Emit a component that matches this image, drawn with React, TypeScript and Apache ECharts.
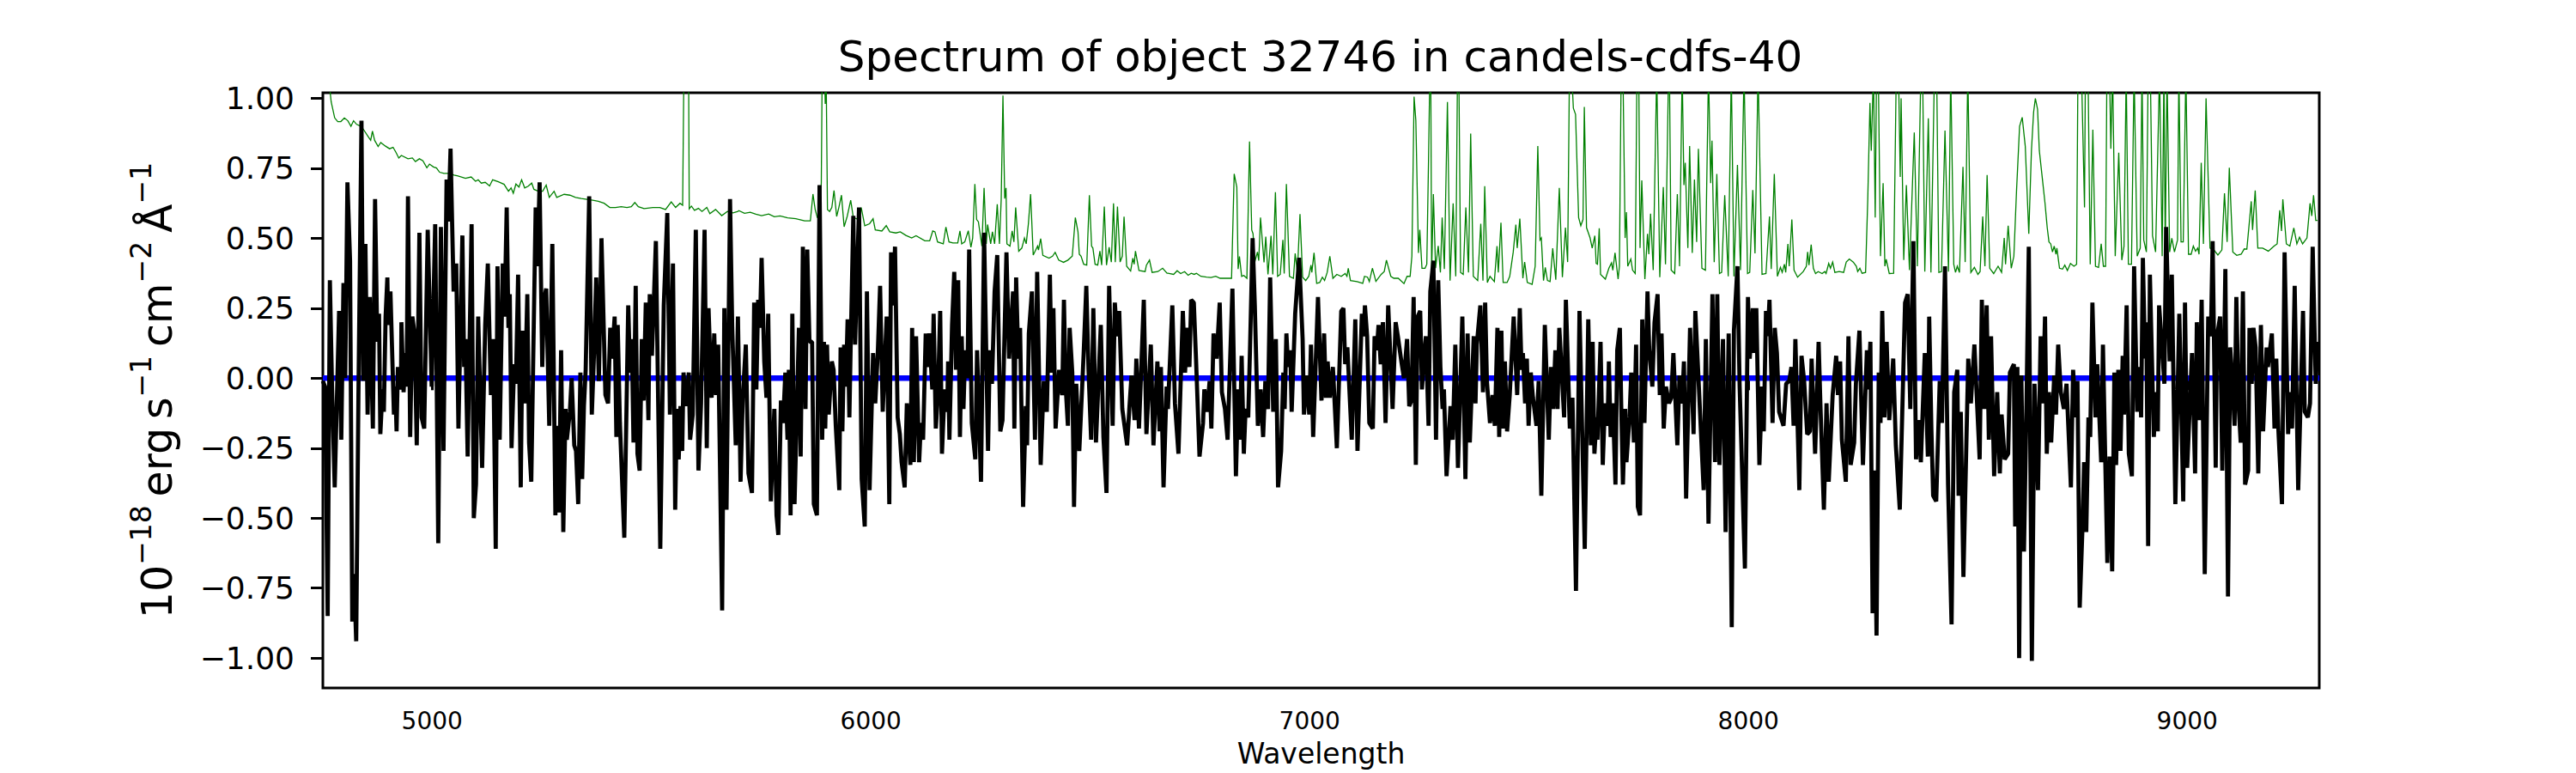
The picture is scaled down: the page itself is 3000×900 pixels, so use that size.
import React, { useEffect, useRef } from "react";
import * as echarts from "echarts";

const titleText = "Spectrum of object 32746 in candels-cdfs-40";
const xLabel = "Wavelength";
const yLabel = "10{s|−18}\u2009erg\u2009s{s|−1}\u2009cm{s|−2}\u2009Å{s|−1}";
const xTicks = [5000, 6000, 7000, 8000, 9000];
const yTicks = [-1, -0.75, -0.5, -0.25, 0, 0.25, 0.5, 0.75, 1];

const zeroLine = [[4751, 0], [9301, 0]];

const fluxA = [[4751,-0.01],[4756,-0.03],[4762,-0.85],[4767,0.35],[4772,-0.04],[4778,-0.39],[4788,0.24],[4793,-0.22],[4798,0.34],[4802,0],[4807,0.70],[4813,0.42],[4818,-0.87],[4822,-0.70],[4827,-0.94],[4832,-0.07],[4839,0.92],[4843,-0.01],[4848,0.48],[4853,-0.13],[4858,0.29],[4865,-0.18],[4870,0.64],[4875,0.13],[4879,0.23],[4882,-0.20],[4887,-0.04],[4890,-0.12],[4894,0.22],[4898,0.36],[4900,0.19],[4905,0.31],[4913,-0.13],[4916,-0.03],[4919,-0.19],[4922,0.04],[4929,-0.04],[4930,0.20],[4935,-0.05],[4939,0.09],[4942,-0.03],[4945,0.65],[4950,-0.21],[4955,0.22],[4960,0.16],[4965,-0.24],[4971,0.52],[4976,-0.14],[4982,-0.18],[4990,0.53],[4999,-0.03],[5007,0.55],[5014,-0.59],[5020,0.54],[5026,-0.26],[5033,0.71],[5037,0.56],[5042,0.82],[5049,0.31],[5055,0.41],[5060,-0.18],[5069,0.51],[5073,0.04],[5076,0.14],[5081,-0.28],[5090,0.55],[5095,-0.50],[5100,-0.38],[5105,0.22],[5114,-0.32],[5121,0.19],[5127,0.41],[5134,-0.06],[5139,0.14],[5145,-0.61],[5149,0.40],[5154,-0.22],[5161,0.41],[5165,0.22],[5170,0.61],[5174,0.18],[5177,0.30],[5181,-0.25],[5187,0.05],[5191,-0.02],[5196,0.37],[5202,-0.39],[5206,0.17],[5211,-0.09],[5217,0.30],[5221,-0.23],[5226,-0.37],[5236,0.61],[5240,0.40],[5245,0.70],[5251,0.04],[5255,0.28],[5260,0.32],[5267,-0.17],[5274,0.48],[5281,-0.49],[5284,-0.17],[5289,-0.48],[5294,0.10],[5299,-0.55],[5304,-0.11],[5307,-0.22],[5314,-0.12],[5318,0],[5324,-0.24],[5328,-0.26],[5333,-0.45],[5338,0.02],[5342,-0.36],[5346,-0.10],[5350,0.03],[5358,0.65],[5364,-0.13],[5369,0.09],[5374,0.36],[5380,-0.01],[5386,0.50],[5395,-0.06],[5401,-0.09],[5406,0.18],[5410,0.07],[5416,0.22],[5420,-0.21],[5423,0.19],[5428,-0.16],[5438,-0.57],[5447,0.26],[5451,0.02],[5455,0.14],[5459,-0.23],[5464,0.33],[5468,-0.27],[5473,-0.33],[5478,0.14],[5482,-0.08],[5487,0.27],[5493,-0.15],[5496,0.30],[5501,0.08],[5510,0.49],[5520,-0.61],[5528,0.26],[5536,0.59],[5542,-0.13],[5549,0.41],[5554,-0.47],[5558,-0.11],[5562,-0.29],[5566,-0.10],[5570,-0.26],[5573,0.02],[5579,-0.10],[5585,0.02],[5588,-0.22],[5594,-0.13],[5601,0.53],[5607,-0.33],[5613,-0.09],[5621,0.53],[5626,-0.25],[5630,0.25],[5637,-0.07],[5643,0.16],[5647,-0.06],[5652,0.12],[5661,-0.83],[5666,0.25],[5671,-0.47],[5679,0.64],[5684,0.18],[5692,-0.24],[5697,0.22]];

const fluxB = [[5703,-0.37],[5708,-0.07],[5715,0.12],[5721,-0.34],[5729,-0.41],[5734,0.27],[5739,-0.04],[5743,0.28],[5747,0.18],[5751,0.43],[5757,0.06],[5762,-0.07],[5766,0.23],[5772,-0.44],[5780,-0.11],[5785,-0.49],[5789,-0.56],[5795,-0.08],[5800,-0.16],[5805,0.02],[5810,-0.22],[5813,0.03],[5817,-0.49],[5821,0.23],[5826,-0.45],[5836,0.18],[5840,-0.28],[5845,0.47],[5851,-0.11],[5855,0.46],[5860,0.13],[5866,0.13],[5870,-0.45],[5877,-0.49],[5883,0.69],[5889,-0.22],[5893,0.13],[5896,-0.18],[5900,0.12],[5904,-0.13],[5911,0.06],[5915,0.03],[5920,-0.17],[5928,-0.40],[5931,0.11],[5935,-0.19],[5939,0.12],[5943,-0.03],[5947,0.21],[5951,-0.14],[5954,0.12],[5960,0.58],[5964,0.12],[5973,0.61],[5979,-0.36],[5986,-0.53],[5991,0.31],[5997,-0.40],[6005,0.09],[6010,-0.09],[6016,0.10],[6021,0.33],[6027,-0.12],[6036,0.22],[6042,-0.45],[6046,0.45],[6051,0.26],[6055,0.47],[6061,-0.14],[6066,-0.20],[6070,-0.30],[6077,-0.39],[6082,-0.09],[6090,-0.31],[6094,0.18],[6098,-0.30],[6103,0.15],[6110,-0.30],[6114,-0.16],[6119,-0.22],[6125,0.16],[6130,0.04],[6133,0.16],[6140,-0.04],[6143,0.23],[6148,-0.18],[6153,-0.05],[6158,0.24],[6162,-0.27],[6168,-0.04],[6174,-0.12],[6176,0.06],[6179,-0.22],[6185,0.19],[6190,0.38],[6194,0.03],[6199,0.35],[6203,-0.21],[6207,0.15],[6211,-0.11],[6215,0.10],[6220,0],[6224,0.46],[6230,-0.16],[6238,-0.29],[6242,0.10],[6251,-0.37],[6258,0.52],[6267,-0.26],[6271,0.10],[6276,-0.02],[6282,0.31],[6288,0.44],[6295,-0.19],[6300,-0.15],[6309,0.45],[6315,0.07],[6324,0.31],[6327,-0.18],[6331,0.36],[6336,0.07],[6340,0.18],[6347,-0.46],[6353,-0.10],[6356,-0.24],[6360,0.16],[6367,0.31],[6374,-0.22],[6379,0.38],[6387,-0.31],[6394,-0.01],[6401,-0.12],[6408,0.37],[6412,0.02],[6416,0.25],[6421,-0.18],[6429,0.03],[6436,-0.06],[6440,0.28],[6444,-0.03],[6449,-0.17],[6453,0.18],[6459,0.02],[6463,-0.46],[6468,-0.02],[6475,-0.26],[6485,0.09],[6491,0.33],[6496,0.03],[6502,-0.22],[6507,0.25],[6513,-0.23],[6524,0.19],[6530,-0.21],[6537,-0.41],[6543,0.33],[6551,-0.17],[6556,0.27],[6561,0.15],[6566,0.24],[6573,-0.11],[6584,-0.24],[6589,-0.11],[6594,0.01],[6601,-0.15],[6605,0.07],[6611,-0.18],[6622,0.28],[6628,-0.20],[6638,0.12],[6644,-0.24],[6653,0.06],[6658,-0.19],[6661,0.04],[6667,-0.39],[6674,-0.03]];

const fluxC = [[6677,-0.11],[6687,0.26],[6693,-0.09],[6701,-0.27],[6711,0.24],[6716,0.02],[6721,0.18],[6726,0.04],[6730,0.28],[6736,0.27],[6741,0.07],[6749,-0.28],[6757,-0.16],[6760,-0.04],[6766,-0.12],[6772,-0.01],[6776,-0.18],[6781,0.16],[6788,0.07],[6795,0.27],[6800,-0.05],[6807,-0.11],[6813,-0.22],[6824,0.32],[6832,-0.35],[6837,-0.04],[6841,-0.22],[6845,0.08],[6850,-0.27],[6854,-0.11],[6860,-0.14],[6864,0.10],[6870,0.50],[6875,0.26],[6882,-0.17],[6888,-0.04],[6894,-0.21],[6899,-0.01],[6905,-0.11],[6910,0.36],[6917,-0.12],[6923,0.14],[6928,-0.39],[6935,-0.26],[6940,0.02],[6943,-0.11],[6947,0.16],[6951,0.04],[6956,0.10],[6959,-0.12],[6967,0.23],[6976,0.43],[6984,0.14],[6987,-0.13],[6994,0.01],[6999,-0.13],[7003,0.12],[7008,-0.21],[7019,0.29],[7027,-0.08],[7033,0.16],[7037,-0.07],[7041,0.06],[7046,-0.07],[7053,0.04],[7062,-0.25],[7072,0.24],[7077,0.25],[7081,0.05],[7086,0.11],[7096,-0.22],[7104,0.21],[7109,-0.26],[7119,0.23],[7123,0.15],[7126,0.26],[7131,0.15],[7136,-0.16],[7144,-0.18],[7148,0.15],[7153,0.10],[7157,0.19],[7162,0.05],[7167,0.20],[7173,-0.16],[7179,0.26],[7189,-0.11],[7196,0.20],[7201,0.15],[7209,0.06],[7215,0],[7222,0.14],[7227,-0.10],[7232,-0.08],[7237,0.29],[7242,-0.31],[7246,0.22],[7252,0.24],[7256,-0.04],[7261,0.09],[7265,0.15],[7271,-0.17],[7275,0.31],[7282,0.42],[7288,-0.22],[7293,0.35],[7298,0.04],[7303,-0.11],[7306,-0.04],[7312,-0.35],[7321,-0.10],[7326,-0.22],[7332,0.12],[7338,-0.32],[7342,-0.11],[7348,0.22],[7355,-0.36],[7360,0.16],[7365,-0.23],[7374,0.15],[7378,-0.09],[7381,0.12],[7389,0.26],[7395,-0.05],[7400,0.27],[7404,-0.01],[7411,-0.16],[7417,-0.06],[7422,-0.17],[7428,0.18],[7432,-0.21],[7437,0.17],[7441,-0.18],[7445,0.06],[7450,-0.19],[7456,-0.06],[7465,0.22],[7473,-0.06],[7479,0.25],[7483,0.03],[7486,0.09],[7491,-0.09],[7495,0.07],[7499,-0.17],[7504,0.02],[7509,-0.07],[7517,-0.17],[7522,-0.01],[7528,-0.42],[7536,0.19],[7545,-0.22],[7550,0.04],[7555,-0.11],[7560,0.10],[7565,-0.11],[7569,0.18],[7580,-0.14],[7584,0.28],[7593,-0.18],[7599,-0.07],[7607,-0.76],[7615,0.24],[7627,-0.61],[7635,0.21],[7641,-0.24],[7645,0.13],[7649,-0.27],[7654,-0.14]];

const fluxD = [[7656,-0.22],[7663,0.13],[7668,-0.31],[7673,-0.09],[7679,-0.17],[7682,0.06],[7686,-0.21],[7691,-0.09],[7697,-0.38],[7701,0.10],[7707,0.18],[7710,-0.09],[7714,-0.38],[7719,-0.11],[7722,-0.30],[7729,-0.14],[7733,0.02],[7739,-0.23],[7744,0.12],[7748,-0.46],[7753,-0.49],[7758,0.21],[7763,-0.16],[7770,0.31],[7774,0.10],[7781,-0.03],[7786,0.20],[7793,0.30],[7798,-0.06],[7802,0.16],[7807,-0.18],[7812,-0.03],[7819,-0.09],[7824,-0.07],[7829,0.09],[7838,-0.24],[7843,0.01],[7849,-0.09],[7853,0.06],[7858,-0.43],[7867,0.18],[7875,-0.20],[7879,0.24],[7885,0.04],[7890,-0.13],[7898,-0.40],[7903,0.14],[7909,-0.52],[7918,0.30],[7924,-0.30],[7929,0.30],[7934,-0.31],[7942,0.14],[7948,-0.55],[7955,0.16],[7962,-0.89],[7967,0.17],[7975,0.40],[7980,-0.03],[7992,-0.68],[7999,0.29],[8003,0.07],[8010,0.25],[8013,0.09],[8018,0.25],[8025,-0.31],[8031,-0.03],[8035,-0.19],[8040,0.24],[8044,0.15],[8048,0.28],[8055,-0.16],[8060,0.18],[8065,0.09],[8070,-0.12],[8080,-0.17],[8086,-0.02],[8093,-0.01],[8098,0.04],[8103,-0.17],[8107,0.14],[8116,-0.40],[8121,0.08],[8127,-0.01],[8134,-0.20],[8140,-0.19],[8144,0.07],[8152,-0.27],[8160,0.13],[8164,-0.09],[8172,-0.47],[8178,-0.09],[8183,-0.37],[8192,-0.06],[8200,0.08],[8204,-0.06],[8209,0.06],[8213,-0.22],[8222,-0.37],[8228,0.15],[8233,-0.31],[8241,-0.23],[8245,-0.02],[8253,0.17],[8261,-0.31],[8270,0.10],[8273,-0.04],[8278,0.13],[8283,-0.84],[8287,-0.33],[8292,-0.92],[8297,0.02],[8301,-0.16],[8305,0.24],[8310,-0.14],[8315,0.13],[8321,-0.15],[8330,0.07],[8336,-0.24],[8345,-0.47],[8357,0.27],[8363,0.30],[8369,-0.11],[8376,0.49],[8382,-0.29],[8387,-0.15],[8393,-0.30],[8402,0.09],[8409,-0.28],[8412,0.22],[8417,-0.18],[8421,-0.42],[8428,-0.44],[8436,-0.01],[8441,-0.16],[8448,0.40],[8455,-0.38],[8463,-0.88],[8469,-0.05],[8476,0.03],[8479,-0.42],[8484,-0.12],[8490,-0.71],[8501,0.07],[8507,-0.09],[8515,0.12]];

const fluxE = [[8527,-0.29],[8532,0.28],[8538,-0.11],[8543,0.26],[8548,-0.22],[8553,0.15],[8560,-0.35],[8567,-0.05],[8573,-0.34],[8577,-0.13],[8584,-0.29],[8592,-0.27],[8596,0.02],[8605,0.05],[8608,-0.53],[8613,0.04],[8617,-1.00],[8622,0.01],[8628,-0.62],[8634,-0.07],[8639,0.47],[8646,-1.01],[8652,-0.02],[8660,-0.40],[8666,0.15],[8671,-0.09],[8676,0.22],[8680,-0.27],[8685,-0.05],[8690,-0.23],[8697,0.01],[8701,-0.13],[8706,0.12],[8712,-0.05],[8719,-0.11],[8725,-0.02],[8735,-0.39],[8740,0.03],[8746,-0.14],[8750,-0.01],[8755,-0.82],[8761,-0.55],[8765,-0.30],[8770,-0.55],[8775,-0.14],[8779,-0.21],[8784,0.27],[8791,-0.14],[8795,0.05],[8804,-0.30],[8808,0.12],[8818,-0.66],[8823,-0.28],[8829,-0.69],[8834,0.02],[8838,-0.31],[8843,0.03],[8848,-0.26],[8853,0.08],[8856,-0.13],[8862,0.26],[8867,-0.27],[8874,-0.35],[8879,0.40],[8886,-0.12],[8892,0.04],[8895,-0.14],[8899,0.43],[8904,0.07],[8907,0.20],[8911,-0.60],[8915,0.37],[8924,-0.21],[8929,-0.05],[8933,-0.19],[8936,0.26],[8941,0.15],[8948,-0.02],[8952,0.54],[8960,0.06],[8965,0.37],[8973,-0.45],[8982,0.23],[8991,-0.44],[8995,0.27],[9000,-0.32],[9011,0.09],[9018,-0.34],[9022,0.20],[9027,-0.15],[9033,0.28],[9040,-0.70],[9048,0.22],[9054,0.15],[9058,0.49],[9065,-0.32],[9068,0.15],[9075,0.22],[9080,-0.33],[9087,0.39],[9093,-0.78],[9098,0.11],[9102,0.02],[9108,-0.17],[9112,0.29],[9117,-0.09],[9122,-0.23],[9127,0.31],[9132,-0.38],[9139,-0.33],[9142,0.18],[9147,-0.02],[9151,0.18],[9156,0.11],[9162,-0.34],[9168,0.19],[9173,-0.19],[9181,0.11],[9184,0.04],[9193,0.16],[9199,-0.18],[9203,0.07],[9208,-0.19],[9216,-0.45],[9222,0.45],[9230,-0.20],[9234,-0.05],[9239,-0.18],[9245,0.33],[9253,-0.40],[9264,0.24],[9268,-0.12],[9275,-0.14],[9280,-0.09],[9286,0.47],[9293,-0.02],[9297,0.13]];

const errorA = [[4759,1.15],[4770,0.987],[4778,0.93],[4785,0.917],[4792,0.917],[4800,0.93],[4808,0.92],[4815,0.90],[4821,0.92],[4828,0.907],[4838,0.90],[4844,0.888],[4854,0.864],[4860,0.85],[4864,0.883],[4869,0.85],[4877,0.828],[4883,0.842],[4893,0.83],[4903,0.82],[4911,0.825],[4918,0.806],[4924,0.787],[4930,0.796],[4945,0.784],[4955,0.787],[4962,0.774],[4971,0.784],[4979,0.777],[4988,0.752],[4994,0.765],[5003,0.755],[5010,0.751],[5017,0.736],[5027,0.732],[5040,0.732],[5050,0.726],[5059,0.723],[5076,0.714],[5089,0.719],[5099,0.704],[5105,0.709],[5112,0.697],[5121,0.70],[5131,0.687],[5138,0.709],[5151,0.702],[5164,0.693],[5174,0.668],[5180,0.68],[5185,0.661],[5191,0.694],[5198,0.683],[5204,0.709],[5211,0.68],[5219,0.686],[5227,0.697],[5232,0.675],[5242,0.668],[5252,0.668],[5260,0.69],[5267,0.646],[5278,0.668],[5284,0.646],[5301,0.657],[5314,0.654],[5327,0.646],[5340,0.642],[5353,0.639],[5366,0.636],[5379,0.632],[5392,0.625],[5405,0.61],[5418,0.61],[5431,0.613],[5444,0.61],[5454,0.613],[5462,0.628],[5470,0.613],[5483,0.606],[5503,0.61],[5519,0.61],[5532,0.603],[5545,0.63],[5555,0.61],[5565,0.625],[5571,0.618],[5575,1.3],[5580,1.7],[5584,1.3],[5586,0.605],[5591,0.615],[5598,0.60],[5607,0.607],[5615,0.596],[5626,0.61],[5633,0.588],[5646,0.603],[5660,0.581],[5673,0.596],[5686,0.591],[5697,0.596]];

const errorB = [[5699,0.599],[5712,0.589],[5725,0.593],[5738,0.586],[5751,0.581],[5767,0.587],[5780,0.577],[5793,0.58],[5810,0.573],[5829,0.57],[5849,0.562],[5862,0.562],[5868,0.658],[5873,0.603],[5878,0.574],[5884,0.574],[5887,0.70],[5889,1.1],[5893,1.2],[5896,0.98],[5898,1.1],[5901,0.603],[5906,0.596],[5911,0.61],[5916,0.671],[5922,0.578],[5927,0.61],[5933,0.654],[5939,0.541],[5946,0.578],[5954,0.636],[5960,0.574],[5973,0.567],[5978,0.61],[5986,0.545],[5997,0.552],[6005,0.57],[6010,0.53],[6025,0.526],[6035,0.545],[6043,0.523],[6057,0.519],[6067,0.523],[6080,0.51],[6093,0.501],[6103,0.509],[6123,0.491],[6134,0.491],[6141,0.526],[6146,0.523],[6152,0.487],[6165,0.48],[6171,0.54],[6178,0.487],[6187,0.483],[6198,0.483],[6203,0.526],[6207,0.48],[6214,0.487],[6222,0.527],[6228,0.468],[6232,0.501],[6237,0.694],[6241,0.567],[6245,0.559],[6253,0.472],[6258,0.68],[6263,0.48],[6266,0.549],[6273,0.48],[6277,0.523],[6282,0.48],[6288,0.622],[6293,0.48],[6297,0.639],[6301,1.01],[6305,0.642],[6308,0.68],[6310,0.48],[6317,0.472],[6322,0.526],[6326,0.487],[6330,0.61],[6337,0.454],[6344,0.465],[6350,0.501],[6354,0.48],[6359,0.552],[6364,0.658],[6370,0.44],[6380,0.472],[6382,0.458],[6387,0.499],[6392,0.439],[6406,0.429],[6414,0.436],[6420,0.45],[6428,0.422],[6439,0.414],[6449,0.422],[6459,0.436],[6466,0.574],[6472,0.523],[6475,0.443],[6479,0.436],[6485,0.407],[6492,0.404],[6498,0.654],[6503,0.472],[6506,0.465],[6511,0.407],[6517,0.404],[6522,0.454],[6526,0.404],[6532,0.613],[6537,0.404],[6543,0.468],[6548,0.415],[6553,0.625],[6557,0.415],[6562,0.613],[6568,0.415],[6573,0.436],[6577,0.577],[6583,0.40],[6592,0.383],[6597,0.429],[6600,0.407],[6603,0.454],[6611,0.385],[6625,0.381],[6628,0.404],[6635,0.422],[6641,0.378],[6654,0.381],[6665,0.393],[6675,0.375]];

const errorC = [[6677,0.375],[6690,0.371],[6698,0.384],[6706,0.374],[6715,0.381],[6723,0.368],[6730,0.375],[6737,0.371],[6742,0.375],[6752,0.364],[6765,0.361],[6775,0.36],[6786,0.364],[6796,0.357],[6811,0.357],[6822,0.357],[6828,0.73],[6834,0.683],[6837,0.39],[6840,0.435],[6845,0.364],[6850,0.367],[6857,0.357],[6863,0.846],[6868,0.53],[6871,0.516],[6875,0.415],[6881,0.451],[6884,0.42],[6888,0.574],[6896,0.414],[6900,0.506],[6905,0.371],[6912,0.509],[6916,0.371],[6922,0.665],[6927,0.364],[6933,0.371],[6939,0.494],[6942,0.374],[6947,0.694],[6954,0.364],[6963,0.357],[6967,0.446],[6972,0.378],[6978,0.586],[6984,0.361],[6991,0.349],[6998,0.364],[7003,0.404],[7005,0.378],[7010,0.448],[7016,0.339],[7023,0.342],[7029,0.361],[7034,0.349],[7040,0.378],[7046,0.436],[7053,0.357],[7062,0.371],[7072,0.364],[7081,0.374],[7085,0.364],[7088,0.393],[7093,0.349],[7108,0.345],[7121,0.339],[7125,0.364],[7132,0.361],[7136,0.345],[7143,0.393],[7151,0.346],[7163,0.371],[7170,0.381],[7175,0.422],[7185,0.364],[7192,0.357],[7202,0.357],[7215,0.338],[7222,0.364],[7229,0.364],[7233,0.436],[7238,1.006],[7242,0.922],[7248,0.448],[7251,0.53],[7256,0.393],[7263,0.393],[7267,0.407],[7271,0.784],[7274,1.1],[7276,1.1],[7278,0.378],[7282,0.658],[7287,0.393],[7293,0.473],[7298,0.378],[7302,0.574],[7307,0.39],[7314,0.987],[7320,0.349],[7327,0.625],[7333,0.364],[7337,1.1],[7340,1.1],[7344,0.378],[7350,0.371],[7356,0.61],[7362,0.378],[7367,0.874],[7373,0.364],[7383,0.349],[7390,0.552],[7395,0.349],[7399,0.686],[7405,0.342],[7411,0.364],[7421,0.345],[7427,0.472],[7430,0.378],[7436,0.556],[7441,0.342],[7450,0.342],[7456,0.364],[7464,0.451],[7470,0.549],[7473,0.465],[7479,0.57],[7486,0.357],[7490,0.415],[7496,0.342],[7507,0.335],[7514,0.40],[7520,0.83],[7525,0.494],[7528,0.501],[7533,0.349],[7537,0.396],[7542,0.349],[7548,0.345],[7554,0.464],[7561,0.352],[7569,0.68],[7576,0.361],[7583,0.538],[7588,0.415],[7592,1.08],[7597,1.1],[7601,0.965],[7606,0.943],[7613,0.574],[7618,0.545],[7623,0.567],[7626,0.969],[7631,0.538],[7639,0.502],[7644,0.465],[7650,0.509],[7653,0.41]];

const errorD = [[7656,0.407],[7660,0.536],[7663,0.371],[7674,0.354],[7682,0.393],[7688,0.412],[7691,0.386],[7696,0.448],[7703,0.354],[7706,0.40],[7710,1.1],[7714,1.1],[7719,0.501],[7722,0.593],[7725,0.40],[7732,0.426],[7736,0.386],[7742,0.374],[7746,1.1],[7750,1.1],[7753,0.465],[7757,0.707],[7764,0.354],[7770,0.516],[7773,0.443],[7777,0.588],[7783,0.386],[7791,1.1],[7798,0.361],[7806,0.683],[7811,0.407],[7818,1.1],[7820,1.1],[7824,0.386],[7832,0.374],[7838,0.658],[7843,0.40],[7849,1.1],[7853,0.69],[7856,0.77],[7862,0.465],[7866,0.83],[7872,0.448],[7877,0.71],[7882,0.487],[7886,0.82],[7894,0.393],[7902,0.386],[7909,1.1],[7914,0.697],[7917,0.849],[7922,0.415],[7928,0.73],[7934,0.374],[7939,0.378],[7946,0.654],[7954,0.364],[7961,1.1],[7967,0.364],[7975,0.762],[7982,0.386],[7990,1.1],[7998,0.374],[8003,0.378],[8010,0.672],[8015,0.446],[8022,1.1],[8031,0.371],[8040,0.374],[8048,0.578],[8052,0.39],[8059,0.73],[8066,0.364],[8073,0.396],[8077,0.378],[8082,0.407],[8085,0.378],[8090,0.48],[8093,0.40],[8099,0.567],[8104,0.386],[8112,0.361],[8125,0.381],[8132,0.40],[8135,0.451],[8138,0.404],[8143,0.477],[8148,0.393],[8153,0.374],[8159,0.381],[8168,0.374],[8174,0.381],[8177,0.374],[8183,0.41],[8187,0.393],[8192,0.415],[8197,0.378],[8207,0.381],[8217,0.378],[8223,0.415],[8230,0.426],[8239,0.415],[8246,0.40],[8249,0.381],[8254,0.393],[8259,0.375],[8267,0.378],[8272,0.639],[8277,0.984],[8280,0.813],[8285,1.1],[8289,0.574],[8292,1.1],[8296,1.1],[8301,0.436],[8307,0.697],[8311,0.40],[8314,0.425],[8321,0.374],[8331,0.375],[8337,1.1],[8342,1.1],[8346,0.719],[8348,1.0],[8354,0.422],[8360,0.69],[8367,0.386],[8378,0.878],[8385,0.40],[8393,1.1],[8397,1.1],[8402,0.381],[8410,0.929],[8416,0.378],[8424,1.1],[8429,1.1],[8434,0.378],[8440,0.381],[8448,0.885],[8456,0.381],[8461,1.1],[8468,0.407],[8472,0.378],[8476,0.40],[8481,0.378],[8489,0.755],[8494,0.415],[8500,1.1],[8507,0.378],[8515,0.396]];

const errorE = [[8523,0.371],[8528,0.381],[8534,0.578],[8539,0.40],[8544,0.726],[8550,0.393],[8559,0.374],[8569,0.40],[8577,0.378],[8583,0.501],[8586,0.407],[8592,0.545],[8599,0.393],[8605,0.436],[8611,0.668],[8618,0.90],[8624,0.932],[8631,0.828],[8639,0.516],[8645,0.813],[8650,0.951],[8654,1.0],[8659,0.961],[8663,0.813],[8670,0.712],[8676,0.625],[8681,0.538],[8685,0.487],[8689,0.48],[8693,0.451],[8697,0.472],[8701,0.443],[8703,0.465],[8709,0.393],[8716,0.39],[8721,0.404],[8727,0.385],[8734,0.41],[8742,0.40],[8748,0.407],[8751,1.1],[8759,1.1],[8766,0.61],[8768,1.1],[8774,1.1],[8779,0.407],[8785,0.888],[8791,0.40],[8798,0.396],[8804,0.48],[8809,0.40],[8814,0.40],[8817,1.1],[8823,1.1],[8826,0.82],[8830,1.1],[8836,0.436],[8844,0.806],[8851,0.422],[8856,0.471],[8861,1.1],[8866,0.407],[8873,0.407],[8879,1.1],[8886,0.436],[8893,0.465],[8897,1.1],[8901,0.494],[8907,0.451],[8911,1.1],[8916,1.1],[8921,0.509],[8928,0.451],[8937,1.1],[8943,0.436],[8947,1.1],[8950,0.451],[8954,1.1],[8960,0.451],[8965,0.50],[8971,0.451],[8978,0.494],[8981,1.1],[8986,0.487],[8991,0.487],[8997,1.1],[9003,0.443],[9009,0.443],[9014,0.472],[9019,0.454],[9024,0.465],[9027,0.443],[9032,0.77],[9037,0.48],[9043,1.0],[9052,0.465],[9061,0.458],[9070,0.44],[9079,0.458],[9085,0.661],[9091,0.487],[9096,0.752],[9104,0.451],[9113,0.439],[9123,0.443],[9130,0.462],[9136,0.461],[9146,0.632],[9149,0.53],[9155,0.671],[9161,0.465],[9172,0.465],[9185,0.454],[9198,0.472],[9205,0.48],[9211,0.60],[9215,0.526],[9218,0.639],[9226,0.48],[9234,0.472],[9243,0.537],[9250,0.48],[9256,0.504],[9263,0.48],[9273,0.501],[9280,0.625],[9284,0.58],[9288,0.654],[9293,0.564],[9297,0.564]];

const font = "DejaVu Sans";

export default function App() {
  const ref = useRef<HTMLDivElement>(null);
  useEffect(() => {
    const chart = echarts.init(ref.current!, null, { renderer: "svg" });
    chart.setOption({
      animation: false,
      backgroundColor: "#ffffff",
      textStyle: { fontFamily: font, color: "#000" },
      title: {
        text: titleText,
        left: 1532.5,
        top: 36,
        textAlign: "center",
        textStyle: { fontFamily: font, fontSize: 50, fontWeight: "normal", color: "#000" },
      },
      grid: {
        left: 376,
        right: 299,
        top: 108,
        bottom: 99,
        show: true,
        borderColor: "#000",
        borderWidth: 3,
        backgroundColor: "transparent",
      },
      xAxis: {
        type: "value",
        min: 4751,
        max: 9301,
        name: xLabel,
        nameLocation: "middle",
        nameGap: 60,
        nameTextStyle: { fontFamily: font, fontSize: 33, color: "#000" },
        splitLine: { show: false },
        axisLine: { show: false },
        axisTick: { show: true, length: 14, customValues: xTicks, lineStyle: { color: "#000", width: 3 } },
        axisLabel: { customValues: xTicks, fontFamily: font, fontSize: 28, color: "#000", margin: 24, formatter: (v: number) => String(v) },
      },
      yAxis: {
        type: "value",
        min: -1.107,
        max: 1.02,
        name: yLabel,
        nameLocation: "middle",
        nameRotate: 90,
        nameGap: 158,
        nameTextStyle: {
          fontFamily: font,
          fontSize: 49,
          color: "#000",
          lineHeight: 70,
          rich: { s: { fontFamily: font, fontSize: 33, color: "#000", verticalAlign: "top", lineHeight: 34 } },
        },
        splitLine: { show: false },
        axisLine: { show: false },
        axisTick: { show: true, length: 14, customValues: yTicks, lineStyle: { color: "#000", width: 3 } },
        axisLabel: {
          customValues: yTicks,
          fontFamily: font,
          fontSize: 36,
          color: "#000",
          margin: 33,
          formatter: (v: number) => (v < 0 ? "−" : "") + Math.abs(v).toFixed(2),
        },
      },
      series: [
        {
          name: "Error",
          type: "line",
          data: [...errorA, ...errorB, ...errorC, ...errorD, ...errorE],
          showSymbol: false,
          clip: true,
          z: 2,
          lineStyle: { color: "#008000", width: 1.3, join: "miter" },
        },
        {
          name: "Zero",
          type: "line",
          data: zeroLine,
          showSymbol: false,
          clip: true,
          z: 3,
          lineStyle: { color: "#0000ff", width: 6.5 },
        },
        {
          name: "Flux",
          type: "line",
          data: [...fluxA, ...fluxB, ...fluxC, ...fluxD, ...fluxE],
          showSymbol: false,
          clip: true,
          z: 4,
          lineStyle: { color: "#000000", width: 4.8, join: "bevel" },
        },
      ],
    });
    return () => chart.dispose();
  }, []);
  return <div ref={ref} style={{ position: "absolute", left: 0, top: 0, width: 3000, height: 900 }} />;
}
